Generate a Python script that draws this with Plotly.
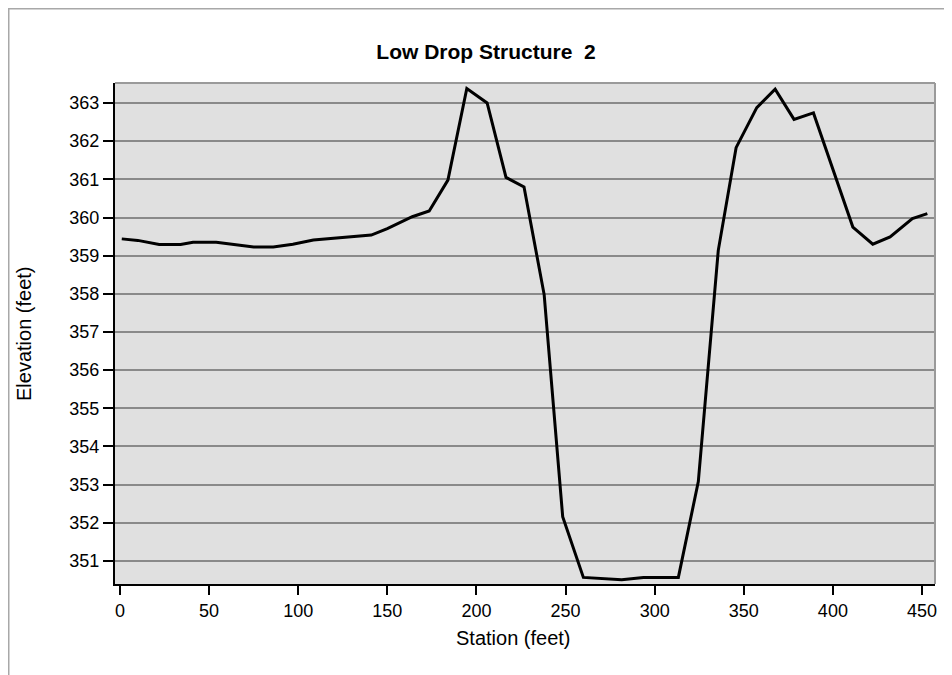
import plotly.graph_objects as go

station = [1, 10, 22, 34, 41, 54, 75, 86, 97, 108.5, 141, 150, 164, 173.5, 184,
           194.6, 206, 216.6, 226.7, 238, 248.4, 260, 281.5, 293.7, 313.3, 324.5,
           335.7, 345.7, 357.3, 367.6, 378.2, 389.1, 411.2, 422.4, 432.1, 444.6, 453]
elevation = [359.44, 359.40, 359.29, 359.29, 359.35, 359.35, 359.23, 359.23, 359.30, 359.41,
             359.54, 359.71, 360.02, 360.17, 360.98, 363.38, 363.0, 361.05, 360.80, 357.98,
             352.16, 350.57, 350.51, 350.57, 350.57, 353.08, 359.14, 361.83, 362.88, 363.36,
             362.57, 362.74, 359.75, 359.30, 359.49, 359.97, 360.10]

x_ticks = [0, 50, 100, 150, 200, 250, 300, 350, 400, 450]
y_ticks = [351, 352, 353, 354, 355, 356, 357, 358, 359, 360, 361, 362, 363]

FONT = "Liberation Sans, Arial, sans-serif"

# page body has an 8px margin: figure occupies 944x667 starting at (8, 8)
W, H = 944, 667
L, R, T, B = 107, 17, 75, 91
PW, PH = W - L - R, H - T - B

fig = go.Figure()
fig.add_trace(go.Scatter(x=station, y=elevation, mode="lines",
                         line=dict(color="black", width=3), showlegend=False,
                         hoverinfo="x+y"))

def px_x(x):
    return (x - L) / PW

def px_y(y):
    return (H - B - y) / PH

fig.update_layout(
    width=W, height=H,
    margin=dict(l=L, r=R, t=T, b=B),
    paper_bgcolor="white",
    plot_bgcolor="#e0e0e0",
    font=dict(family=FONT, size=18, color="black"),
    title=dict(text="<b>Low Drop Structure\u00a0 2</b>", x=478 / W, xref="container",
               xanchor="center", y=1 - 44 / H, yanchor="middle",
               font=dict(family=FONT, size=21, color="black")),
    xaxis=dict(range=[-2.8, 457.3], tickvals=x_ticks, ticktext=[str(v) for v in x_ticks],
               showgrid=False, zeroline=False, showline=True, linecolor="black", linewidth=2,
               ticks="outside", ticklen=9, tickwidth=1.5, tickcolor="black",
               tickfont=dict(size=18)),
    yaxis=dict(range=[350.397, 363.524], tickvals=y_ticks, ticktext=[str(v) for v in y_ticks],
               showgrid=True, gridcolor="#8a8a8a", gridwidth=2, zeroline=False,
               showline=True, linecolor="black", linewidth=2,
               ticks="outside", ticklen=10, tickwidth=1.5, tickcolor="black",
               tickfont=dict(size=18)),
    annotations=[
        dict(text="Station (feet)", xref="paper", yref="paper",
             x=px_x(505), y=px_y(630), xanchor="center", yanchor="middle",
             showarrow=False, font=dict(size=20)),
        dict(text="Elevation (feet)", xref="paper", yref="paper", textangle=-90,
             x=px_x(16), y=px_y(326), xanchor="center", yanchor="middle",
             showarrow=False, font=dict(size=20)),
    ],
    shapes=[
        # gray top and right plot borders
        dict(type="line", xref="paper", yref="paper", x0=0, x1=1, y0=1, y1=1,
             line=dict(color="#9a9a9a", width=2), layer="above"),
        dict(type="line", xref="paper", yref="paper", x0=1, x1=1, y0=0, y1=1,
             line=dict(color="#9a9a9a", width=2), layer="above"),
        # outer frame (top and left)
        dict(type="line", xref="paper", yref="paper",
             x0=px_x(0), x1=px_x(W), y0=px_y(0.5), y1=px_y(0.5),
             line=dict(color="#a8a8a8", width=2)),
        dict(type="line", xref="paper", yref="paper",
             x0=px_x(0.5), x1=px_x(0.5), y0=px_y(0), y1=px_y(H),
             line=dict(color="#a8a8a8", width=2)),
    ],
)

fig.write_html("out.html")
